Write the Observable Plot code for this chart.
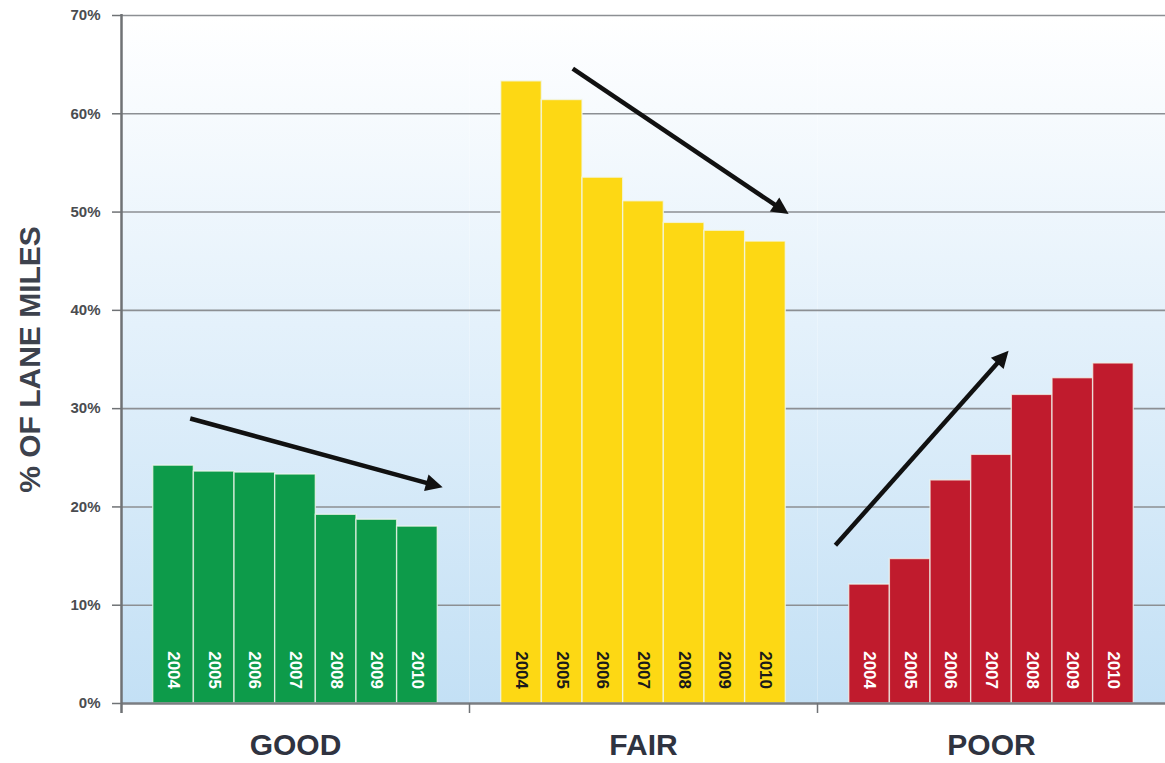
<!DOCTYPE html>
<html>
<head>
<meta charset="utf-8">
<script src="https://cdn.jsdelivr.net/npm/d3@7"></script>
<script src="https://cdn.jsdelivr.net/npm/@observablehq/plot@0.6"></script>
<style>
  html, body { margin: 0; padding: 0; background: #fff; overflow: hidden; }
  #chart svg { display: block; font-family: "Liberation Sans", Arial, sans-serif; }
</style>
</head>
<body>
<div id="chart"></div>
<script>
// ---- data ----
const categories = ["GOOD", "FAIR", "POOR"];
const years = [2004, 2005, 2006, 2007, 2008, 2009, 2010];
const good = [24.2, 23.6, 23.5, 23.3, 19.2, 18.7, 18.0];
const fair = [63.3, 61.4, 53.5, 51.1, 48.9, 48.1, 47.0];
const poor = [12.1, 14.7, 22.7, 25.3, 31.4, 33.1, 34.6];
const colors = {GOOD: "#0d9b4a", FAIR: "#fdd814", POOR: "#c01b2d"};
const yearTextColors = {GOOD: "#ffffff", FAIR: "#1a1a1a", POOR: "#ffffff"};
const yTicks = [0, 10, 20, 30, 40, 50, 60, 70];

// trend arrows (in data units: year position, percent)
const arrowCats = ["GOOD", "FAIR", "POOR"];
const arrowX1 = [2004.41, 2005.26, 2003.16];
const arrowY1 = [29.0, 64.6, 16.1];
const arrowX2 = [2010.62, 2010.57, 2007.42];
const arrowY2 = [22.0, 49.8, 35.9];

const series = {GOOD: good, FAIR: fair, POOR: poor};
const rows = categories.flatMap(c => years.map((y, i) => ({cat: c, year: y, value: series[c][i]})));
const arrows = arrowCats.map((c, i) => ({cat: c, x1: arrowX1[i], y1: arrowY1[i], x2: arrowX2[i], y2: arrowY2[i]}));
const xDomain = [2002.72, 2011.28];

const chart = Plot.plot({
  width: 1165,
  height: 763,
  marginLeft: 121,
  marginRight: 0,
  marginTop: 15,
  marginBottom: 60,
  fx: {domain: categories, padding: 0},
  x: {domain: xDomain, axis: null},
  y: {domain: [0, 70]},
  marks: [
    Plot.frame({fill: "url(#bgGrad)", stroke: null}),
    Plot.ruleY(yTicks.filter(d => d > 0), {stroke: "#8c8f93", strokeWidth: 1.6}),
    Plot.rectY(rows, {
      fx: "cat", x1: d => d.year - 0.5, x2: d => d.year + 0.5, y: "value",
      fill: d => colors[d.cat], stroke: "#f2f7ee", strokeOpacity: 0.75, strokeWidth: 1.4
    }),
    Plot.text(rows, {
      fx: "cat", x: "year", y: () => 3.4, text: d => String(d.year), rotate: 90,
      fill: d => yearTextColors[d.cat], fontSize: 17, fontWeight: "bold",
      textAnchor: "middle", lineAnchor: "middle"
    }),
    Plot.ruleY([0], {stroke: "#7b7e82", strokeWidth: 2.5}),
    Plot.ruleX(["GOOD"], {fx: d => d, x: () => xDomain[0], y1: () => 70, y2: () => 0, insetBottom: -10, insetTop: -1, stroke: "#6f7275", strokeWidth: 2.5}),
    Plot.ruleX(["FAIR", "POOR"], {fx: d => d, x: () => xDomain[0], y1: () => 0, y2: () => 0, insetBottom: -10, stroke: "#6f7275", strokeWidth: 1.5}),
    Plot.arrow(arrows, {
      fx: "cat", x1: "x1", y1: "y1", x2: "x2", y2: "y2",
      stroke: "#111111", strokeWidth: 4.5, headLength: 9, headAngle: 80,
      strokeLinejoin: "miter", strokeLinecap: "butt"
    }),
    Plot.axisY({
      anchor: "left", ticks: yTicks, tickSize: 9, tickPadding: 12,
      tickFormat: d => d + "%", fontSize: 15, fontWeight: "bold",
      fill: "#4a4c50", stroke: "#6f7275", strokeWidth: 1.5, label: null
    }),
    Plot.text(["% OF LANE MILES"], {
      fx: () => "GOOD", frameAnchor: "left", dx: -91, rotate: -90,
      text: d => d, fontSize: 30, fontWeight: "bold", fill: "#3d424d",
      textAnchor: "middle", lineAnchor: "middle"
    }),
    Plot.axisFx({
      anchor: "bottom", tickSize: 0, tickPadding: 30, fontSize: 30,
      fontWeight: "bold", fill: "#2f3340", label: null
    })
  ]
});

// gradient background for the plotting area
const defs = d3.create("svg:defs");
const grad = defs.append("linearGradient").attr("id", "bgGrad")
  .attr("x1", 0).attr("y1", 0).attr("x2", 0).attr("y2", 1);
grad.append("stop").attr("offset", "0%").attr("stop-color", "#ffffff");
grad.append("stop").attr("offset", "45%").attr("stop-color", "#e4f1fb");
grad.append("stop").attr("offset", "100%").attr("stop-color", "#c3e0f5");
chart.insertBefore(defs.node(), chart.firstChild);

// turn the open arrowheads drawn by Plot into filled triangular heads
try {
  chart.querySelectorAll('g[aria-label="arrow"] path').forEach(p => {
    const nums = (p.getAttribute("d").match(/-?\d+(\.\d+)?(e-?\d+)?/g) || []).map(Number);
    if (nums.length < 4) return;
    const [x1, y1, x2, y2] = nums;
    const a = Math.atan2(y2 - y1, x2 - x1);
    const L = 17, W = 8.5;
    const bx = x2 - L * Math.cos(a), by = y2 - L * Math.sin(a);
    const nx = -Math.sin(a), ny = Math.cos(a);
    p.setAttribute("d", `M${x1},${y1}L${bx + 2 * Math.cos(a)},${by + 2 * Math.sin(a)}`);
    const tri = document.createElementNS("http://www.w3.org/2000/svg", "path");
    tri.setAttribute("d", `M${x2},${y2}L${bx + W * nx},${by + W * ny}L${bx - W * nx},${by - W * ny}Z`);
    tri.setAttribute("fill", "#111111");
    tri.setAttribute("stroke", "none");
    p.parentNode.insertBefore(tri, p.nextSibling);
  });
} catch (e) { /* keep Plot's own arrowheads */ }

document.getElementById("chart").appendChild(chart);
</script>
</body>
</html>
